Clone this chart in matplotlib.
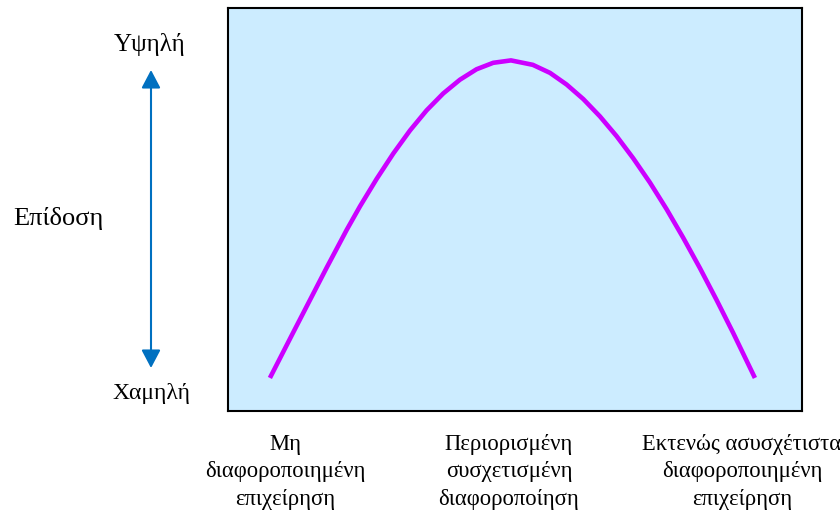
import matplotlib
matplotlib.use("Agg")
import matplotlib.pyplot as plt

# σημεία της καμπύλης, διαβασμένα από την εικόνα (0-100 σε κάθε άξονα)
x_curve = [7.3, 11.4, 14.3, 17.2, 20.7, 23.0, 25.9, 28.8, 31.7, 34.6, 37.5,
           40.4, 43.3, 46.2, 49.3, 53.1, 56.1, 59.0, 61.9, 64.8, 67.7, 70.6,
           73.5, 76.4, 79.3, 82.2, 85.1, 88.0, 91.8]
y_curve = [8.2, 19.6, 27.6, 35.6, 45.0, 50.8, 57.6, 63.9, 69.6, 74.6, 78.8,
           82.2, 84.8, 86.4, 87.0, 85.9, 83.9, 81.0, 77.4, 73.1, 68.2, 62.7,
           56.7, 50.1, 43.0, 35.5, 27.6, 19.4, 8.2]

categories = ["Μη\nδιαφοροποιημένη\nεπιχείρηση",
              "Περιορισμένη\nσυσχετισμένη\nδιαφοροποίηση",
              "Εκτενώς ασυσχέτιστα\nδιαφοροποιημένη\nεπιχείρηση"]
cat_x = [285, 509, 742]   # κέντρα ετικετών σε pixel

plt.rcParams['font.family'] = ['Liberation Serif', 'DejaVu Serif']

W, H = 840, 513
fig = plt.figure(figsize=(W / 100, H / 100), dpi=100)
ax = fig.add_axes([228 / W, 1 - 411 / H, 574 / W, 403 / H])
ax.set_facecolor("#CCECFF")
ax.plot(x_curve, y_curve, color="#CC00FF", lw=3.3,
        solid_capstyle="butt", solid_joinstyle="round")
ax.set_xlim(0, 100)
ax.set_ylim(0, 100)
ax.set_xticks([])
ax.set_yticks([])
for s in ax.spines.values():
    s.set_linewidth(1.5)
    s.set_color("black")

# βέλος επίδοσης
ax.annotate("", xy=(151 / W, 1 - 70 / H), xytext=(151 / W, 1 - 368 / H),
            xycoords="figure fraction", textcoords="figure fraction",
            arrowprops=dict(arrowstyle="<|-|>,head_length=1.1,head_width=0.58",
                            mutation_scale=10, color="#0070C0", lw=1.5,
                            shrinkA=0, shrinkB=0))

fig.text(150 / W, 1 - 45 / H, "Υψηλή", ha="center", va="center", fontsize=18)
fig.text(151 / W, 1 - 393 / H, "Χαμηλή", ha="center", va="center", fontsize=17)
fig.text(58 / W, 1 - 219 / H, "Επίδοση", ha="center", va="center", fontsize=19)

for lab, cx in zip(categories, cat_x):
    fig.text(cx / W, 1 - 472 / H, lab, ha="center", va="center",
             fontsize=16.3, linespacing=1.4)

fig.savefig("out.png", dpi=100)
